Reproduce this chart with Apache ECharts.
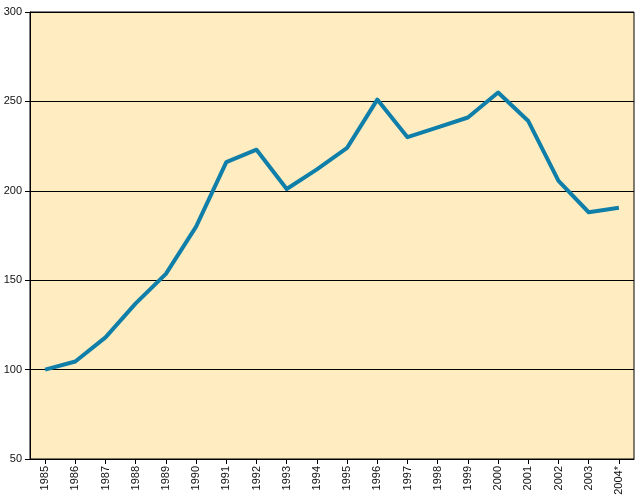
<!DOCTYPE html>
<html>
<head>
<meta charset="utf-8">
<script src="https://cdn.jsdelivr.net/npm/echarts@6/dist/echarts.min.js"></script>
<style>html,body{margin:0;padding:0;background:#fff;}#c{width:640px;height:500px;}</style>
</head>
<body>
<div id="c"></div>
<script>
var years = ['1985','1986','1987','1988','1989','1990','1991','1992','1993','1994','1995','1996','1997','1998','1999','2000','2001','2002','2003','2004*'];
var values = [100, 104.5, 118, 137, 153.5, 180, 216, 223, 201, 212, 224, 251, 230, 235.5, 241, 255, 239, 205.5, 188, 190.5];
var yTicks = [50, 100, 150, 200, 250, 300];

var chart = echarts.init(document.getElementById('c'), null, {renderer: 'canvas'});
chart.setOption({
  animation: false,
  backgroundColor: '#ffffff',
  grid: {
    left: 30, top: 12, right: 6, bottom: 41,
    show: true, backgroundColor: '#FFEDC1', borderColor: '#000', borderWidth: 1
  },
  xAxis: {
    type: 'category',
    data: years,
    boundaryGap: true,
    axisLine: {show: true, lineStyle: {color: '#000', width: 1}},
    axisTick: {show: true, alignWithLabel: true, length: 5, lineStyle: {color: '#000'}},
    axisLabel: {rotate: 90, margin: 7, fontSize: 11, color: '#111', fontFamily: 'Liberation Sans, Arial, sans-serif', interval: 0},
    splitLine: {show: false}
  },
  yAxis: {
    type: 'value',
    min: yTicks[0], max: yTicks[yTicks.length - 1], interval: 50,
    axisLine: {show: true, lineStyle: {color: '#000', width: 1}},
    axisTick: {show: true, length: 5, lineStyle: {color: '#000'}},
    axisLabel: {margin: 8, fontSize: 11, color: '#111', fontFamily: 'Liberation Sans, Arial, sans-serif'},
    splitLine: {show: true, lineStyle: {color: '#000', width: 1}}
  },
  series: [{
    type: 'line',
    data: values,
    symbol: 'none',
    lineStyle: {color: '#0F7FA9', width: 4, join: 'round'},
    itemStyle: {color: '#0F7FA9'}
  }]
});
</script>
</body>
</html>
